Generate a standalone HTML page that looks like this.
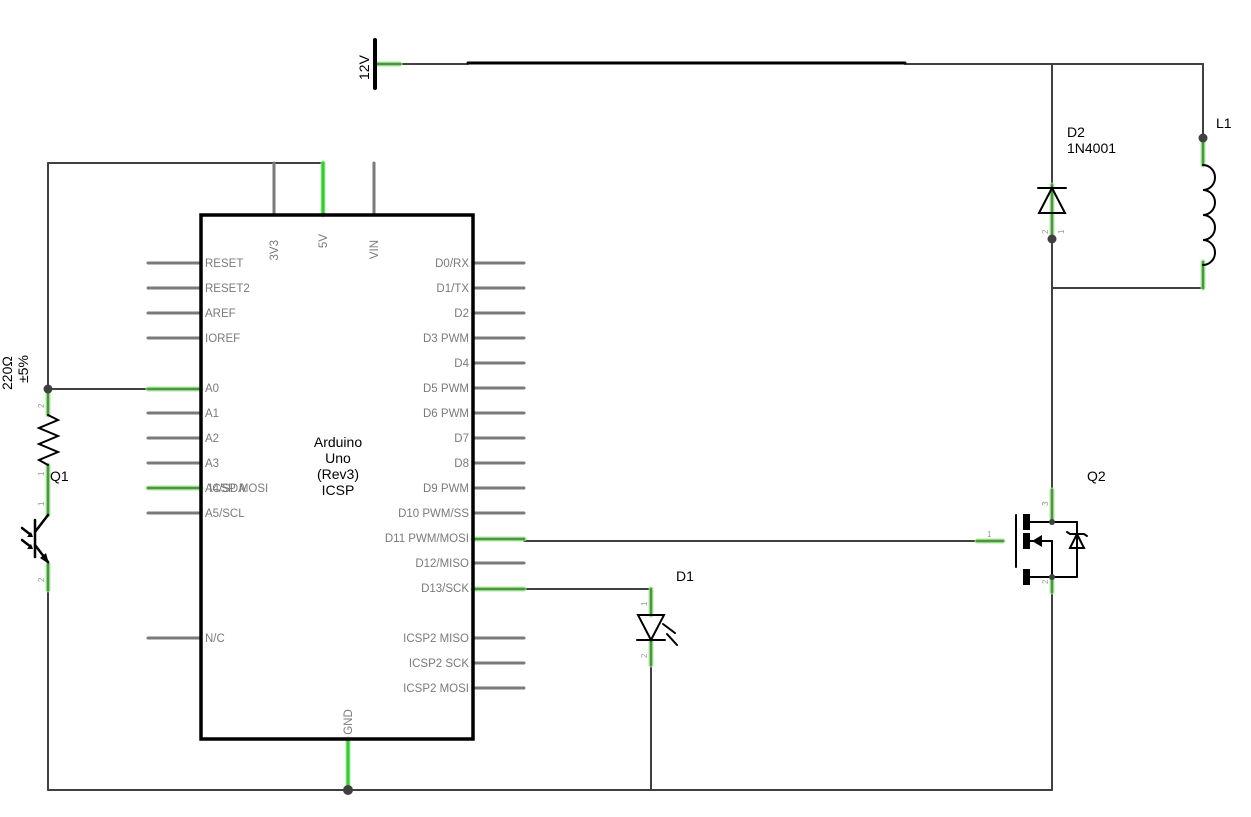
<!DOCTYPE html>
<html><head><meta charset="utf-8"><style>
html,body{margin:0;padding:0;background:#fff;width:1251px;height:817px;overflow:hidden}
text{font-family:"Liberation Sans",sans-serif}
.pl{font-size:11.5px;fill:#7a7a7a}
.lb{font-size:14px;fill:#000}
</style></head><body>
<svg width="1251" height="817" viewBox="0 0 1251 817" xmlns="http://www.w3.org/2000/svg">
<g fill="none" stroke-linecap="round">
<g stroke="#404040" stroke-width="2">
<polyline points="48,163 323,163"/>
<line x1="48" y1="163" x2="48" y2="400"/>
<line x1="48" y1="389" x2="150" y2="389"/>
<line x1="48" y1="590" x2="48" y2="790"/>
<line x1="48" y1="790" x2="1052" y2="790"/>
<line x1="375" y1="64" x2="468" y2="64"/>
<line x1="905" y1="64" x2="1203" y2="64"/>
<line x1="1052" y1="64" x2="1052" y2="185"/>
<line x1="1052" y1="239" x2="1052" y2="500"/>
<line x1="1203" y1="64" x2="1203" y2="140"/>
<line x1="1052" y1="288" x2="1203" y2="288"/>
<line x1="524" y1="541" x2="980" y2="541"/>
<line x1="524" y1="589" x2="651" y2="589"/>
<line x1="651" y1="665" x2="651" y2="790"/>
<line x1="1052" y1="592" x2="1052" y2="790"/>
</g>
<line x1="468" y1="63" x2="905" y2="63" stroke="#000" stroke-width="3"/>
<g stroke="#7a7a7a" stroke-width="3">
<line x1="148" y1="263" x2="201" y2="263"/><line x1="148" y1="288" x2="201" y2="288"/>
<line x1="148" y1="313" x2="201" y2="313"/><line x1="148" y1="338" x2="201" y2="338"/>
<line x1="148" y1="413" x2="201" y2="413"/><line x1="148" y1="438" x2="201" y2="438"/>
<line x1="148" y1="463" x2="201" y2="463"/><line x1="148" y1="513" x2="201" y2="513"/>
<line x1="148" y1="638" x2="201" y2="638"/>
<line x1="473" y1="263" x2="524" y2="263"/><line x1="473" y1="288" x2="524" y2="288"/>
<line x1="473" y1="313" x2="524" y2="313"/><line x1="473" y1="338" x2="524" y2="338"/>
<line x1="473" y1="363" x2="524" y2="363"/><line x1="473" y1="388" x2="524" y2="388"/>
<line x1="473" y1="413" x2="524" y2="413"/><line x1="473" y1="438" x2="524" y2="438"/>
<line x1="473" y1="463" x2="524" y2="463"/><line x1="473" y1="488" x2="524" y2="488"/>
<line x1="473" y1="513" x2="524" y2="513"/><line x1="473" y1="563" x2="524" y2="563"/>
<line x1="473" y1="638" x2="524" y2="638"/><line x1="473" y1="663" x2="524" y2="663"/>
<line x1="473" y1="688" x2="524" y2="688"/>
<line x1="274" y1="163" x2="274" y2="215"/><line x1="374" y1="163" x2="374" y2="215"/>
</g>
<g stroke="#9be88a" stroke-width="5" opacity="0.8">
<line x1="148" y1="389" x2="201" y2="389"/><line x1="148" y1="488" x2="201" y2="488"/>
<line x1="473" y1="539" x2="524" y2="539"/><line x1="473" y1="589" x2="524" y2="589"/>
<line x1="323" y1="163" x2="323" y2="215"/><line x1="348" y1="739" x2="348" y2="790"/>
<line x1="375" y1="64" x2="400" y2="64"/>
<line x1="48" y1="389" x2="48" y2="415"/><line x1="48" y1="465" x2="48" y2="515"/><line x1="48" y1="564" x2="48" y2="590"/>
<line x1="1052" y1="185" x2="1052" y2="239"/><line x1="1203" y1="138" x2="1203" y2="165"/><line x1="1203" y1="262" x2="1203" y2="288"/>
<line x1="651" y1="589" x2="651" y2="615"/><line x1="651" y1="640" x2="651" y2="665"/>
<line x1="1052" y1="490" x2="1052" y2="520"/><line x1="1052" y1="578" x2="1052" y2="592"/>
<line x1="977" y1="541" x2="1003" y2="541"/>
</g>
<g stroke="#4f9445" stroke-width="2.5">
<line x1="148" y1="389" x2="201" y2="389"/><line x1="148" y1="488" x2="201" y2="488"/>
<line x1="473" y1="539" x2="524" y2="539"/><line x1="473" y1="589" x2="524" y2="589"/>
<line x1="48" y1="389" x2="48" y2="415"/><line x1="48" y1="465" x2="48" y2="515"/><line x1="48" y1="564" x2="48" y2="590"/>
<line x1="1052" y1="185" x2="1052" y2="239"/><line x1="1203" y1="138" x2="1203" y2="165"/><line x1="1203" y1="262" x2="1203" y2="288"/>
<line x1="651" y1="589" x2="651" y2="615"/><line x1="651" y1="640" x2="651" y2="665"/>
<line x1="1052" y1="490" x2="1052" y2="520"/><line x1="1052" y1="578" x2="1052" y2="592"/>
<line x1="977" y1="541" x2="1003" y2="541"/><line x1="375" y1="64" x2="400" y2="64"/>
</g>
<line x1="323" y1="163" x2="323" y2="215" stroke="#33cc33" stroke-width="3"/>
<line x1="348" y1="739" x2="348" y2="790" stroke="#33cc33" stroke-width="3"/>
<rect x="201" y="215" width="272" height="524" stroke="#000" stroke-width="3.5"/>
<line x1="375" y1="40" x2="375" y2="88" stroke="#000" stroke-width="4"/>
<polyline points="48,415 58,420 39,428 58,436 39,444 58,452 39,460 48,465" stroke="#000" stroke-width="2"/>
<g stroke="#000" stroke-width="2.5">
<line x1="35" y1="520" x2="35" y2="557"/>
<line x1="35" y1="532" x2="48" y2="515"/>
<line x1="35" y1="545" x2="48" y2="562"/>
<line x1="22" y1="528" x2="31" y2="535"/><line x1="22" y1="540" x2="31" y2="547"/>
</g>
<polygon points="49,564 40,558 46,553" fill="#000"/>
<polygon points="33,537 27,537 31,532" fill="#000"/><polygon points="33,549 27,549 31,544" fill="#000"/>
<g stroke="#000" stroke-width="2">
<line x1="1038" y1="188" x2="1066" y2="188"/>
<polygon points="1052,188 1039,213 1065,213"/>
</g>
<path d="M1203,165 a12,12.5 0 0 1 0,25 a12,12.5 0 0 1 0,25 a12,12.5 0 0 1 0,25 a12,12.5 0 0 1 0,25" stroke="#000" stroke-width="2"/>
<g stroke="#000" stroke-width="2">
<polygon points="638,615 664,615 651,640"/>
<line x1="637" y1="640" x2="665" y2="640"/>
<line x1="663" y1="624" x2="675" y2="633"/><line x1="667" y1="634" x2="677" y2="645"/>
</g>
<g stroke="#000" stroke-width="2">
<line x1="1016" y1="515" x2="1016" y2="567"/>
<line x1="1030" y1="522" x2="1077" y2="522"/>
<line x1="1030" y1="577" x2="1077" y2="577"/>
<line x1="1030" y1="541" x2="1052" y2="541"/>
<line x1="1052" y1="541" x2="1052" y2="577"/>
<line x1="1077" y1="522" x2="1077" y2="577"/>
<polyline points="1067,532 1070,534 1084,534 1087,536"/>
<polygon points="1077,534 1070,548 1084,548"/>
</g>
<g fill="#000">
<rect x="1023" y="514" width="7" height="16"/><rect x="1023" y="533" width="7" height="16"/><rect x="1023" y="569" width="7" height="16"/>
<polygon points="1032,541 1042,535 1042,547"/>
</g>
</g>
<g fill="#404040">
<circle cx="48" cy="389" r="4.5"/><circle cx="348" cy="790" r="5"/>
<circle cx="1052" cy="239" r="4.5"/><circle cx="1203" cy="138" r="4.5"/>
<circle cx="1052" cy="522" r="3"/><circle cx="1052" cy="577" r="3"/>
</g>
<g class="pl">
<text x="205" y="267">RESET</text><text x="205" y="292">RESET2</text><text x="205" y="317">AREF</text>
<text x="205" y="342">IOREF</text><text x="205" y="392">A0</text><text x="205" y="417">A1</text>
<text x="205" y="442">A2</text><text x="205" y="467">A3</text><text x="205" y="492">A4/SDA</text>
<text x="209" y="492">ICSP MOSI</text>
<text x="205" y="517">A5/SCL</text><text x="205" y="642">N/C</text>
</g>
<g class="pl" text-anchor="end">
<text x="469" y="267">D0/RX</text><text x="469" y="292">D1/TX</text><text x="469" y="317">D2</text>
<text x="469" y="342">D3 PWM</text><text x="469" y="367">D4</text><text x="469" y="392">D5 PWM</text>
<text x="469" y="417">D6 PWM</text><text x="469" y="442">D7</text><text x="469" y="467">D8</text>
<text x="469" y="492">D9 PWM</text><text x="469" y="517">D10 PWM/SS</text><text x="469" y="542">D11 PWM/MOSI</text>
<text x="469" y="567">D12/MISO</text><text x="469" y="592">D13/SCK</text><text x="469" y="642">ICSP2 MISO</text>
<text x="469" y="667">ICSP2 SCK</text><text x="469" y="692">ICSP2 MOSI</text>
<text transform="translate(278,240) rotate(-90)">3V3</text>
<text transform="translate(327,234) rotate(-90)">5V</text>
<text transform="translate(378,240) rotate(-90)">VIN</text>
</g>
<text class="pl" transform="translate(352,722) rotate(-90)" text-anchor="middle">GND</text>
<g class="lb" text-anchor="middle">
<text x="338" y="447">Arduino</text><text x="338" y="463">Uno</text><text x="338" y="479">(Rev3)</text><text x="338" y="495">ICSP</text>
</g>
<g class="lb">
<text transform="translate(369,80) rotate(-90)">12V</text>
<text transform="translate(12,390) rotate(-90)">220Ω</text>
<text transform="translate(28,383) rotate(-90)">±5%</text>
<text x="50" y="481">Q1</text>
<text x="676" y="581">D1</text>
<text x="1087" y="481">Q2</text>
<text x="1067" y="137">D2</text><text x="1067" y="153">1N4001</text>
<text x="1216" y="128">L1</text>
</g>
<g font-size="8" fill="#999" font-family="Liberation Sans,sans-serif">
<text transform="translate(44,408) rotate(-90)">2</text>
<text transform="translate(44,476) rotate(-90)">1</text>
<text transform="translate(44,506) rotate(-90)">1</text>
<text transform="translate(44,582) rotate(-90)">2</text>
<text transform="translate(647,606) rotate(-90)">1</text>
<text transform="translate(647,658) rotate(-90)">2</text>
<text transform="translate(1048,234) rotate(-90)">2</text>
<text transform="translate(1064,234) rotate(-90)">1</text>
<text transform="translate(1048,506) rotate(-90)">3</text>
<text transform="translate(1048,584) rotate(-90)">2</text>
<text x="987" y="537">1</text>
</g>
</svg>
</body></html>
